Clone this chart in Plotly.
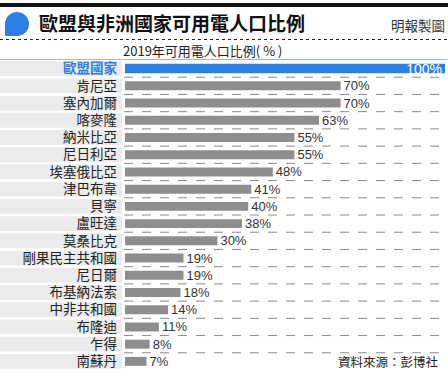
import plotly.graph_objects as go

countries = ["歐盟國家", "肯尼亞", "塞內加爾", "喀麥隆", "納米比亞", "尼日利亞", "埃塞俄比亞",
             "津巴布韋", "貝寧", "盧旺達", "莫桑比克", "剛果民主共和國", "尼日爾", "布基納法索",
             "中非共和國", "布隆迪", "乍得", "南蘇丹"]
values = [100, 70, 70, 63, 55, 55, 48, 41, 40, 38, 30, 19, 19, 18, 14, 11, 8, 7]
value_labels = [f"{v}%" for v in values]

title_text = "歐盟與非洲國家可用電人口比例"
subtitle_text = "2019年可用電人口比例( % )"
credit_text = "明報製圖"
source_text = "資料來源：彭博社"

W, H = 448, 375
L, R, T, B = 125, 0, 60, 5
PW, PH = W - L - R, H - T - B

def px(x):
    return (x - L) / PW

def py(y):
    return (H - B - y) / PH

CJK = "Noto Sans CJK TC"
BLUE = "#2f7fe3"
GRAY = "#8e8e8e"

tick_text = [f"<span style='color:{BLUE}'><b>{countries[0]}</b></span>"] + countries[1:]

fig = go.Figure()

fig.add_trace(go.Bar(
    x=values[1:], y=countries[1:], orientation="h",
    marker=dict(color=GRAY, line=dict(width=0)), width=0.52,
    text=value_labels[1:], textposition="outside", cliponaxis=False, constraintext="none",
    textfont=dict(family="Liberation Sans", size=13, color="#333333"),
    hoverinfo="skip", xaxis="x", yaxis="y",
))
fig.add_trace(go.Bar(
    x=values[:1], y=countries[:1], orientation="h",
    marker=dict(color=BLUE, line=dict(width=0)), width=0.55,
    text=value_labels[:1], textposition="inside", insidetextanchor="end", constraintext="none",
    textfont=dict(family="Liberation Sans", size=14, color="white"),
    hoverinfo="skip", xaxis="x2", yaxis="y",
))

shapes = []
# label background bands
for i in range(len(countries)):
    shapes.append(dict(type="rect", xref="paper", yref="y", x0=px(0), x1=px(122),
                       y0=i - 0.43, y1=i + 0.43, fillcolor="#ebebeb", line=dict(width=0),
                       layer="below"))
# dashed separators
for i in range(len(countries) - 1):
    shapes.append(dict(type="line", xref="paper", yref="y", x0=px(124), x1=px(448),
                       y0=i + 0.5, y1=i + 0.5, line=dict(color="#8a8a8a", width=1, dash="dash"),
                       layer="below"))
# top black bar
shapes.append(dict(type="rect", xref="paper", yref="paper", x0=px(0), x1=px(448),
                   y0=py(7), y1=py(3), fillcolor="#111111", line=dict(width=0)))
# dotted line under title
shapes.append(dict(type="line", xref="paper", yref="paper", x0=px(0), x1=px(448),
                   y0=py(39.5), y1=py(39.5), line=dict(color="#222222", width=1, dash="dot")))
# gray line above chart
shapes.append(dict(type="line", xref="paper", yref="paper", x0=px(0), x1=px(448),
                   y0=py(59.5), y1=py(59.5), line=dict(color="#b5b5b5", width=1)))
# blue teardrop icon
k = 6.63
pts = [(5, 24), (5, 24 - k), (17 - k, 12), (17, 12), (17 + k, 12), (29, 24 - k), (29, 24),
       (29, 24 + k), (17 + k, 36), (17, 36)]
def P(p):
    return f"{px(p[0]):.5f},{py(p[1]):.5f}"
path = (f"M{P(pts[0])} C{P(pts[1])} {P(pts[2])} {P(pts[3])} "
        f"C{P(pts[4])} {P(pts[5])} {P(pts[6])} C{P(pts[7])} {P(pts[8])} {P(pts[9])} "
        f"L{P((6, 36))} L{P((5, 35))} Z")
shapes.append(dict(type="path", xref="paper", yref="paper", path=path,
                   fillcolor=BLUE, line=dict(width=0)))

annotations = [
    dict(text=f"<b>{title_text}</b>", xref="paper", yref="paper", x=px(37), y=py(23),
         xanchor="left", yanchor="middle", showarrow=False,
         font=dict(family=CJK, size=19, color="#111111")),
    dict(text=credit_text, xref="paper", yref="paper", x=px(447), y=py(25),
         xanchor="right", yanchor="middle", showarrow=False,
         font=dict(family=CJK, size=13.5, color="#333333")),
    dict(text=subtitle_text, xref="paper", yref="paper", x=px(202), y=py(51),
         xanchor="center", yanchor="middle", showarrow=False,
         font=dict(family=CJK, size=13, color="#222222")),
    dict(text=source_text, xref="paper", yref="paper", x=px(440), y=py(361),
         xanchor="right", yanchor="middle", showarrow=False,
         font=dict(family=CJK, size=12.5, color="#222222")),
]

fig.update_layout(
    width=W, height=H,
    margin=dict(l=L, r=R, t=T, b=B, pad=0),
    paper_bgcolor="white", plot_bgcolor="white",
    showlegend=False, barmode="overlay", bargap=0.45,
    shapes=shapes, annotations=annotations,
    xaxis=dict(range=[0, PW / 3.08], visible=False, fixedrange=True),
    xaxis2=dict(range=[0, 100 * PW / 320], overlaying="x", visible=False, fixedrange=True),
    yaxis=dict(categoryorder="array", categoryarray=countries, tickmode="array",
               tickvals=countries, ticktext=tick_text, autorange="reversed",
               showgrid=False, zeroline=False, showline=False, ticks="",
               ticklabelstandoff=7,
               tickfont=dict(family=CJK, size=13.5, color="#222222"), fixedrange=True),
)

fig.write_html("out.html", config={"displayModeBar": False},
               post_script="document.body.style.margin='0px';")
